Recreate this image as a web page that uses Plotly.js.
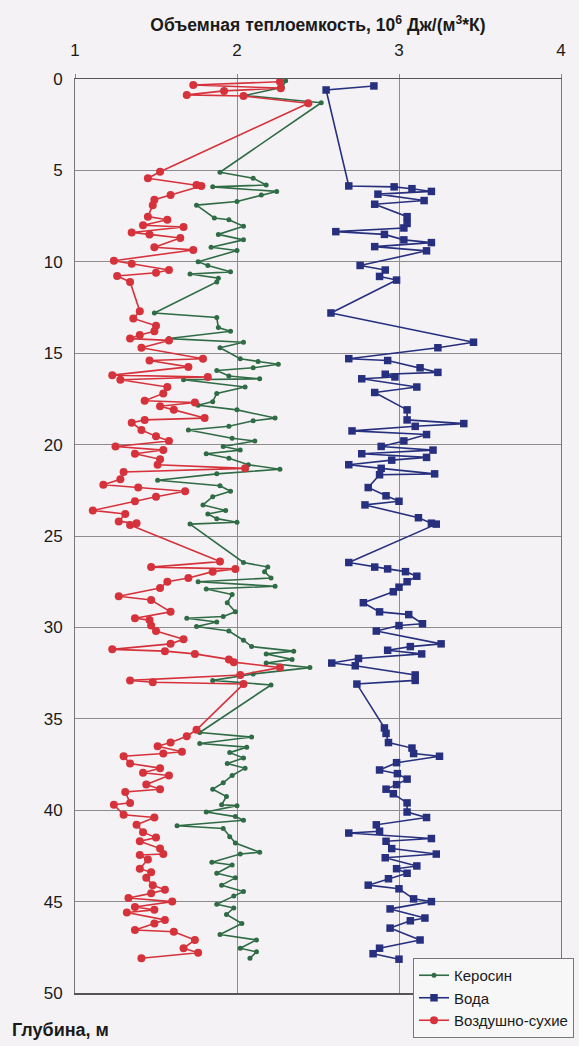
<!DOCTYPE html>
<html>
<head>
<meta charset="utf-8">
<script src="https://cdn.plot.ly/plotly-3.0.1.min.js"></script>
<style>html,body{margin:0;padding:0;background:#f4f2f4;overflow:hidden;}</style>
</head>
<body>
<div id="chart" style="width:579px;height:1046px;"></div>
<script>
// Depth, m
const keroseneDepth = [0.1,0.45,0.9,1.3,5.1,5.43,5.8,5.9,6.15,6.35,6.7,6.9,7.6,7.7,8.05,8.5,8.8,9.2,9.38,10.0,10.2,10.55,10.67,10.9,11.1,12.8,13.05,13.6,13.8,14.2,14.4,14.7,15.3,15.45,15.6,15.8,15.95,16.25,16.4,16.45,16.85,17.2,17.65,17.85,18.1,18.55,18.7,19.0,19.2,19.65,19.8,20.1,20.3,20.5,20.75,21.1,21.35,21.6,21.95,22.25,22.55,22.85,23.3,23.6,23.8,24.05,24.25,24.35,26.45,26.7,26.95,27.3,27.5,27.75,27.9,28.2,28.65,29.15,29.4,29.5,29.7,29.95,30.2,30.7,31.05,31.3,31.45,31.75,31.95,32.2,32.55,32.9,33.15,35.75,36.0,36.35,36.55,36.85,37.15,37.45,37.7,38.1,38.5,38.85,39.25,39.7,39.75,40.1,40.35,40.55,40.85,41.0,41.45,41.8,42.3,42.4,42.85,43.0,43.45,43.7,44.1,44.45,44.7,45.15,45.35,45.7,46.2,46.8,47.1,47.55,47.75,48.1];
const keroseneValue = [2.30,2.28,2.05,2.52,1.895,2.10,2.18,1.85,2.245,2.15,2.0,1.75,1.86,1.95,2.04,1.885,2.04,1.84,2.0,1.76,1.82,1.96,1.71,1.885,1.875,1.49,1.875,1.885,1.96,1.58,2.04,1.895,2.02,2.13,2.255,2.10,1.875,1.95,2.14,1.67,2.05,1.875,1.85,1.76,2.0,2.235,2.10,1.95,1.70,1.97,2.11,1.915,2.02,1.81,1.95,2.07,2.265,1.875,1.51,1.895,1.96,1.85,1.79,1.93,1.82,1.875,2.0,1.71,2.04,2.19,2.17,2.21,1.76,2.235,1.81,1.97,1.94,1.99,1.915,1.69,1.875,1.75,1.95,2.04,2.09,2.35,2.18,2.34,2.18,2.45,2.10,1.85,2.21,1.77,2.09,1.77,2.06,1.955,2.04,1.94,2.05,1.97,1.915,1.85,1.935,1.905,2.0,1.81,1.99,2.04,1.63,1.915,1.955,1.99,2.14,2.02,1.845,1.97,1.875,1.99,1.905,2.04,1.98,1.875,1.98,1.935,2.03,1.895,2.12,2.02,2.12,2.08];

const waterDepth = [0.38,0.6,5.85,5.9,6.0,6.15,6.3,6.65,6.85,7.53,7.9,8.15,8.35,8.5,8.8,8.95,9.17,9.4,10.2,10.45,10.8,11.0,12.8,14.4,14.7,15.3,15.4,15.8,16.05,16.15,16.3,16.4,16.85,17.15,18.1,18.65,18.85,19.0,19.25,19.45,19.8,20.1,20.3,20.5,20.7,20.85,21.1,21.3,21.6,21.65,22.35,22.8,23.1,23.3,24.0,24.3,24.35,26.45,26.7,26.8,26.95,27.2,27.5,27.8,28.05,28.65,29.15,29.3,29.8,29.9,30.2,30.9,31.05,31.25,31.45,31.7,31.95,32.1,32.6,32.9,33.1,35.5,35.8,36.3,36.6,36.9,37.05,37.4,37.8,38.0,38.3,38.6,38.85,39.1,39.6,40.1,40.4,40.8,41.15,41.25,41.55,41.7,42.1,42.4,42.6,43.05,43.2,43.45,43.75,44.1,44.3,44.85,45.0,45.4,45.9,46.05,46.45,47.1,47.55,47.85,48.15];
const waterValue = [2.845,2.55,2.69,2.97,3.08,3.20,2.87,3.155,2.85,3.05,3.05,3.03,2.61,2.91,3.03,3.20,2.85,3.17,2.76,2.915,2.88,2.985,2.58,3.46,3.24,2.69,2.93,3.13,3.24,2.915,2.975,2.77,3.11,2.85,3.05,3.05,3.40,3.10,2.71,3.17,3.03,2.89,3.21,2.77,3.17,2.955,2.69,2.89,3.22,2.88,2.81,2.92,3.0,2.79,3.12,3.20,3.23,2.69,2.85,2.93,3.04,3.11,3.05,3.0,2.965,2.78,2.88,3.06,3.145,3.0,2.86,3.26,3.07,2.93,3.14,2.75,2.585,2.73,3.10,3.10,2.74,2.91,2.92,2.935,3.08,3.09,3.25,2.985,2.88,2.99,3.05,2.985,2.92,2.965,3.05,3.05,3.17,2.86,2.88,2.69,3.20,2.92,2.955,3.23,2.915,3.11,2.985,3.05,2.935,2.81,3.0,3.09,3.20,2.945,3.16,3.07,2.945,3.13,2.88,2.84,3.0];

const airDryDepth = [0.15,0.33,0.5,0.65,0.87,0.93,1.33,5.07,5.43,5.8,5.85,6.35,6.6,6.9,7.53,7.7,8.0,8.1,8.4,8.5,8.7,9.2,9.35,9.94,10.1,10.45,10.6,10.78,11.1,12.7,13.1,13.5,13.8,14.0,14.2,14.3,14.7,15.3,15.4,15.75,16.2,16.3,16.45,16.85,17.2,17.6,17.7,17.9,18.1,18.55,18.65,18.8,19.2,19.55,19.8,20.1,20.3,20.5,20.8,21.1,21.3,21.5,21.9,22.2,22.35,22.55,22.85,23.1,23.6,23.8,24.2,24.3,24.4,26.4,26.7,26.8,26.95,27.3,27.5,27.85,28.3,28.5,29.15,29.5,29.6,29.9,30.2,30.65,30.9,31.2,31.3,31.45,31.75,31.9,32.2,32.6,32.9,33.0,33.1,35.6,35.95,36.3,36.5,36.8,36.9,37.05,37.45,37.7,37.95,38.1,38.6,38.85,39.0,39.6,39.7,40.25,40.4,40.8,41.2,41.5,41.7,42.1,42.4,42.45,42.7,43.2,43.4,43.7,44.1,44.35,44.55,44.8,45.0,45.3,45.45,45.6,46.0,46.2,46.55,46.65,47.1,47.55,47.8,48.1];
const airDryValue = [2.265,1.73,2.27,1.92,1.69,2.04,2.44,1.525,1.45,1.75,1.78,1.59,1.49,1.48,1.45,1.57,1.42,1.67,1.35,1.46,1.65,1.49,1.73,1.24,1.35,1.58,1.50,1.26,1.34,1.40,1.36,1.50,1.49,1.40,1.34,1.58,1.41,1.79,1.46,1.70,1.23,1.82,1.28,1.57,1.545,1.43,1.74,1.525,1.61,1.80,1.43,1.35,1.41,1.50,1.58,1.25,1.545,1.37,1.525,1.51,2.05,1.30,1.28,1.175,1.39,1.68,1.50,1.37,1.11,1.31,1.27,1.38,1.34,1.895,1.47,1.99,1.85,1.70,1.57,1.525,1.27,1.47,1.59,1.37,1.46,1.47,1.50,1.67,1.59,1.23,1.555,1.74,1.95,1.98,2.265,2.02,1.34,1.48,2.04,1.75,1.69,1.59,1.51,1.66,1.545,1.30,1.34,1.525,1.42,1.58,1.44,1.525,1.31,1.34,1.24,1.30,1.49,1.38,1.42,1.50,1.40,1.525,1.545,1.40,1.45,1.40,1.47,1.44,1.48,1.555,1.47,1.33,1.60,1.37,1.49,1.32,1.555,1.49,1.37,1.61,1.74,1.67,1.76,1.41];

const seriesNames = ['Керосин', 'Вода', 'Воздушно-сухие'];
const xTitle = 'Объемная теплоемкость, 10<sup>6</sup> Дж/(м<sup>3</sup>*К)';
const yTitle = 'Глубина, м';

const FONT = 'Liberation Sans, Arial, sans-serif';

const traces = [
  {x: keroseneValue, y: keroseneDepth, name: seriesNames[0], mode: 'lines+markers',
   line: {color: '#2f6b45', width: 1.6}, marker: {color: '#2f6b45', size: 5, symbol: 'circle'}},
  {x: waterValue, y: waterDepth, name: seriesNames[1], mode: 'lines+markers',
   line: {color: '#27307f', width: 1.6}, marker: {color: '#27307f', size: 7.5, symbol: 'square'}},
  {x: airDryValue, y: airDryDepth, name: seriesNames[2], mode: 'lines+markers',
   line: {color: '#d6323c', width: 1.6}, marker: {color: '#d6323c', size: 8, symbol: 'circle'}}
];

const layout = {
  width: 579, height: 1046,
  margin: {l: 75, r: 18, t: 79, b: 53, autoexpand: false},
  paper_bgcolor: '#f4f2f4', plot_bgcolor: '#f4f2f4',
  font: {family: FONT, size: 15, color: '#1a1a1a'},
  title: {text: xTitle, x: 0.5, xref: 'paper', y: 1 - 25/1046, yref: 'container', yanchor: 'middle',
          font: {family: FONT, size: 17.5, color: '#1a1a1a', weight: 'bold'}},
  xaxis: {side: 'top', range: [1, 4], dtick: 1, tick0: 1, showgrid: true, gridcolor: '#8c8c8c', gridwidth: 1,
          showline: true, linecolor: '#555', linewidth: 1.5, mirror: true, zeroline: false,
          ticks: 'outside', ticklen: 4, tickcolor: '#888', ticklabelstandoff: 11,
          tickfont: {family: FONT, size: 17, color: '#1a1a1a'}},
  yaxis: {range: [50, 0], dtick: 5, tick0: 0, showgrid: true, gridcolor: '#8c8c8c', gridwidth: 1,
          showline: true, linecolor: '#777', linewidth: 1, mirror: true, zeroline: false,
          ticks: '', ticklabelstandoff: 8,
          tickfont: {family: FONT, size: 17, color: '#1a1a1a'}},
  showlegend: true,
  legend: {x: (413-75)/486, xanchor: 'left', y: (993-958)/914, yanchor: 'top',
           bgcolor: '#f7f7f7', bordercolor: '#777', borderwidth: 1,
           font: {family: FONT, size: 15, color: '#1a1a1a'}, tracegroupgap: 0},
  annotations: [{text: yTitle, xref: 'paper', yref: 'paper', x: (10-75)/486, xanchor: 'left',
                 y: -(1030-993)/914, yanchor: 'middle', showarrow: false,
                 font: {family: FONT, size: 18, color: '#1a1a1a', weight: 'bold'}}]
};

Plotly.newPlot('chart', traces, layout, {displayModeBar: false, staticPlot: true});
</script>
</body>
</html>
